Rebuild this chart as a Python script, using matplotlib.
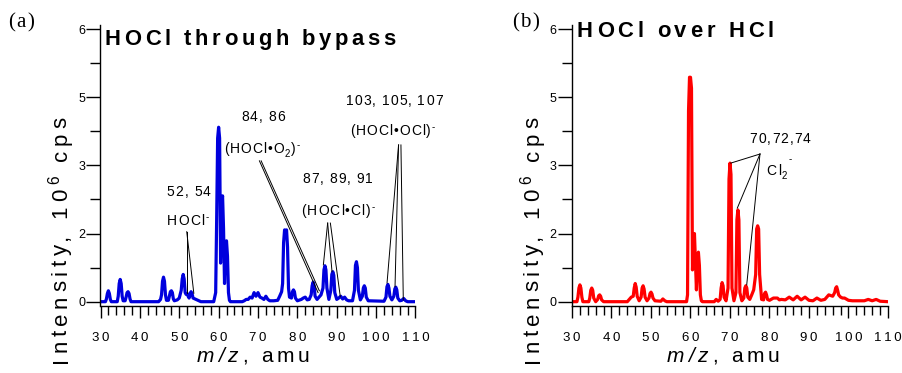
import numpy as np
import matplotlib
matplotlib.use("Agg")
import matplotlib.pyplot as plt
from matplotlib.ticker import FixedLocator, MultipleLocator
from matplotlib.transforms import IdentityTransform

# ---------------- data (m/z in amu, intensity in axis units) ----------------
mz_a = [30, 31.25, 31.5, 31.75, 32, 32.25, 32.5, 32.75, 34.25, 34.5, 34.75, 35, 35.25, 35.5, 35.75, 36.25,
        36.5, 36.75, 37, 37.25, 37.5, 37.75, 44.75, 45.25, 45.5, 45.75, 46, 46.25, 46.5, 46.75, 47.25, 47.5,
        47.75, 48, 48.25, 48.5, 48.75, 49.5, 50, 50.5, 50.75, 51, 51.25, 51.5, 51.75, 52, 52.25, 52.5,
        52.75, 53, 53.25, 53.5, 54, 54.5, 55, 55.5, 58.75, 59.25, 59.5, 59.75, 60, 60.25, 60.5, 60.75,
        61, 61.25, 61.5, 61.75, 62, 62.25, 62.5, 62.75, 63, 66, 66.5, 67, 67.5, 68, 68.5, 69,
        69.5, 70, 70.5, 71, 71.5, 72, 72.5, 73, 74, 75, 75.5, 76, 76.25, 76.5, 76.75, 77,
        77.25, 77.5, 77.75, 78, 78.5, 78.75, 79, 79.25, 79.5, 80, 81, 81.5, 82, 82.5, 83, 83.5,
        83.75, 84, 84.25, 84.5, 85, 85.5, 86, 86.5, 86.75, 87, 87.25, 87.5, 88, 88.5, 88.75, 89,
        89.25, 89.5, 90, 90.5, 91, 91.5, 92, 92.5, 93, 94, 94.5, 94.75, 95, 95.25, 95.5, 96,
        96.5, 96.75, 97, 97.25, 97.5, 98, 102, 102.5, 102.75, 103, 103.25, 103.5, 104, 104.5, 104.75, 105,
        105.25, 105.5, 106, 106.5, 107, 107.5, 108, 110]
int_a = [0, 0, 0.06, 0.18, 0.24, 0.18, 0.05, 0, 0, 0.12, 0.4, 0.49, 0.4, 0.12, 0.02, 0.02,
         0.1, 0.2, 0.22, 0.18, 0.06, 0, 0, 0.05, 0.15, 0.45, 0.54, 0.45, 0.15, 0.03, 0.03, 0.12,
         0.22, 0.24, 0.2, 0.06, 0.02, 0.04, 0.08, 0.25, 0.5, 0.6, 0.5, 0.2, 0.16, 0.18, 0.12, 0.08,
         0.18, 0.22, 0.18, 0.08, 0.06, 0.04, 0.02, 0, 0, 0.2, 1.8, 3.6, 3.84, 3.6, 0.85, 2.1,
         2.33, 1.6, 0.4, 1.2, 1.34, 1.0, 0.2, 0.03, 0, 0, 0.02, 0.05, 0.05, 0.1, 0.08, 0.2,
         0.12, 0.2, 0.1, 0.08, 0.05, 0.12, 0.05, 0.02, 0.02, 0.03, 0.12, 0.22, 0.4, 1.3, 1.58, 1.55,
         1.58, 1.2, 0.3, 0.1, 0.08, 0.22, 0.26, 0.22, 0.08, 0.02, 0.05, 0.08, 0.1, 0.04, 0.05, 0.15,
         0.35, 0.43, 0.35, 0.12, 0.05, 0.1, 0.15, 0.3, 0.7, 0.79, 0.7, 0.3, 0.05, 0.25, 0.6, 0.66,
         0.58, 0.2, 0.05, 0.08, 0.12, 0.06, 0.1, 0.04, 0.02, 0.02, 0.25, 0.8, 0.88, 0.75, 0.25, 0.04,
         0.12, 0.3, 0.35, 0.3, 0.1, 0.02, 0.01, 0.1, 0.33, 0.38, 0.3, 0.12, 0.04, 0.12, 0.28, 0.32,
         0.26, 0.08, 0.02, 0.03, 0.07, 0.02, 0, 0]

mz_b = [30, 31.25, 31.5, 31.75, 32, 32.25, 32.5, 32.75, 34.25, 34.5, 34.75, 35, 35.25, 35.5, 36, 36.5,
        36.75, 37, 37.25, 37.5, 38, 44, 44.5, 45, 45.5, 45.75, 46, 46.25, 46.5, 47, 47.5, 47.75,
        48, 48.25, 48.5, 49, 49.5, 49.75, 50, 50.25, 50.5, 51, 52.5, 53, 53.5, 54, 59, 59.25,
        59.5, 59.75, 60, 60.25, 60.5, 60.75, 61, 61.25, 61.5, 61.75, 62, 62.25, 62.5, 62.75, 63, 66,
        66.5, 67, 67.5, 67.75, 68, 68.25, 68.5, 69, 69.5, 69.75, 70, 70.25, 70.5, 71, 71.5, 71.75,
        72, 72.25, 72.5, 73, 73.5, 73.75, 74, 74.25, 74.5, 75, 75.5, 76, 76.5, 76.75, 77, 77.25,
        77.5, 78, 78.5, 78.75, 79, 79.25, 79.5, 80, 81, 82, 82.5, 83, 84, 85, 86, 87,
        88, 89, 90, 91, 92, 93, 94, 95, 96, 96.5, 96.75, 97, 97.25, 97.5, 98, 98.5,
        99, 100, 101, 104, 105, 106, 107, 108, 110]
int_b = [0, 0, 0.1, 0.3, 0.37, 0.3, 0.1, 0, 0, 0.08, 0.25, 0.3, 0.25, 0.08, 0, 0.05,
         0.13, 0.15, 0.12, 0.04, 0, 0, 0.05, 0.1, 0.12, 0.3, 0.4, 0.32, 0.12, 0.02, 0.1, 0.3,
         0.35, 0.28, 0.1, 0.02, 0.08, 0.18, 0.21, 0.17, 0.08, 0.02, 0.01, 0.06, 0.02, 0, 0, 0.15,
         4.2, 4.94, 4.94, 4.7, 0.7, 1.3, 1.5, 0.9, 0.26, 0.9, 1.09, 0.8, 0.15, 0.02, 0, 0,
         0.05, 0.01, 0.05, 0.3, 0.42, 0.35, 0.1, 0.02, 0.3, 2.7, 3.05, 2.8, 0.3, 0.02, 0.2, 1.8,
         2.02, 1.8, 0.2, 0.02, 0.08, 0.3, 0.35, 0.3, 0.1, 0.05, 0.15, 0.26, 0.6, 1.6, 1.67, 1.6,
         0.6, 0.05, 0.04, 0.18, 0.21, 0.15, 0.05, 0.03, 0.08, 0.08, 0.04, 0.05, 0.04, 0.1, 0.04, 0.12,
         0.04, 0.1, 0.03, 0.02, 0.08, 0.03, 0.05, 0.15, 0.12, 0.2, 0.3, 0.33, 0.25, 0.15, 0.1, 0.08,
         0.08, 0.03, 0.02, 0.02, 0.05, 0.02, 0.05, 0.01, 0]

ytick_pos = [0, 1.5, 3, 4.5, 6]
ytick_lab = ["0", "2", "3", "5", "6"]
xtick_pos = [30, 40, 50, 60, 70, 80, 90, 100, 110]

# leader lines: (label anchor m/z, intensity) -> (peak m/z, intensity)
leaders_a = [((51.9, 1.54), (51.9, 0.19)), ((51.9, 1.54), (53.7, 0.185)),
             ((70.36, 3.10), (85.25, 0.20)), ((70.8, 3.10), (85.58, 0.24)),
             ((87.69, 1.73), (86.6, 0.81)), ((87.69, 1.73), (88.8, 0.66)), ((88.38, 1.73), (90.9, 0.11)),
             ((105.7, 3.45), (102.77, 0.41)), ((105.7, 3.45), (104.8, 0.33)), ((106.3, 3.45), (106.9, 0.04))]
leaders_b = [((77.59, 3.25), (70.18, 3.05)), ((77.59, 3.25), (71.85, 2.06)), ((77.59, 3.25), (74.23, 0.37))]

W, H = 903, 373
fig = plt.figure(figsize=(W / 100, H / 100), dpi=100)
ax1 = fig.add_axes([100.5 / W, (H - 306) / H, 315 / W, 281 / H])
ax2 = fig.add_axes([572 / W, (H - 306) / H, 316 / W, 281 / H])

FAM = ["Liberation Sans", "DejaVu Sans"]

for ax, mz, it, col in [(ax1, mz_a, int_a, "#0000dd"), (ax2, mz_b, int_b, "#ff0000")]:
    ax.plot(mz, it, color=col, lw=2.3, solid_joinstyle="round")
    ax.set_xlim(30, 110)
    ax.set_ylim(-0.095, 6.09)
    for s in ["top", "right"]:
        ax.spines[s].set_visible(False)
    for s in ["left", "bottom"]:
        ax.spines[s].set_linewidth(1.0)
    ax.yaxis.set_major_locator(FixedLocator(ytick_pos))
    ax.set_yticklabels(ytick_lab)
    ax.yaxis.set_minor_locator(MultipleLocator(0.75))
    ax.xaxis.set_major_locator(FixedLocator(xtick_pos))
    ax.set_xticklabels(["\u2009".join(str(v)) for v in xtick_pos])
    ax.xaxis.set_minor_locator(MultipleLocator(2))
    ax.tick_params(axis="y", which="major", length=10, width=1, pad=1, labelsize=9)
    ax.tick_params(axis="y", which="minor", length=7, width=1)
    ax.tick_params(axis="x", which="major", length=8.6, width=1, pad=10, labelsize=9.5)
    ax.tick_params(axis="x", which="minor", length=6.5, width=1)
    for lab in ax.get_xticklabels() + ax.get_yticklabels():
        lab.set_family(FAM)

for (p, q) in leaders_a:
    ax1.plot([p[0], q[0]], [p[1], q[1]], color="black", lw=0.7)
for (p, q) in leaders_b:
    ax2.plot([p[0], q[0]], [p[1], q[1]], color="black", lw=0.7)

renderer = fig.canvas.get_renderer()


def _w(s, fs, **kw):
    t = fig.text(0, 0, s, fontsize=fs, transform=IdentityTransform(), **kw)
    bb = t.get_window_extent(renderer)
    t.remove()
    return bb.width


def spaced(x, y, tokens, size, spacing, ha="center", rotation=0, family=FAM,
           weight="normal", color="black"):
    """Draw letter-spaced text token by token (display pixel coords, baseline at y)."""
    toks = []
    for s, dy, sf, st in tokens:
        fs = size * sf
        kw = dict(family=family, weight=weight, style=st)
        w = _w("|" + s + "|", fs, **kw) - _w("||", fs, **kw)
        toks.append((s, dy, fs, kw, w))
    total = sum(t[4] for t in toks) + spacing * (len(toks) - 1)
    start = {"center": -total / 2, "left": 0, "right": -total}[ha]
    pos = start
    for s, dy, fs, kw, w in toks:
        if rotation == 0:
            fig.text(x + pos, y + dy, s, fontsize=fs, transform=IdentityTransform(),
                     ha="left", va="baseline", color=color, **kw)
        else:
            fig.text(x - dy, y + pos, s, fontsize=fs, transform=IdentityTransform(),
                     ha="left", va="baseline", rotation=90, rotation_mode="anchor",
                     color=color, **kw)
        pos += w + spacing


def dpt(ax, m, v):
    return ax.transData.transform((m, v))


def chars(s, st="normal"):
    return [(c, 0, 1.0, st) for c in s]


SUP = 5
SUB = -4
MINUS = [("-", SUP, 0.7, "normal")]

# titles
spaced(105, H - 45, chars("HOCl through bypass"), 15.8, 3.6, ha="left", weight="bold")
spaced(577, H - 36.7, chars("HOCl over HCl"), 15.8, 3.8, ha="left", weight="bold")

# panel letters
spaced(8, H - 27, chars("(a)"), 15, 1.5, ha="left", family=["Liberation Serif"])
spaced(512, H - 27, chars("(b)"), 15, 1.5, ha="left", family=["Liberation Serif"])

# y labels
ylab_tokens = chars("Intensity, 10") + [("6", 7, 0.7, "normal")] + chars(" cps")
spaced(66.7, H - 240, ylab_tokens, 16, 4.5, rotation=90)
spaced(538.7, H - 240, ylab_tokens, 16, 4.5, rotation=90)

# x labels
xlab_tokens = chars("m/z", "italic") + chars(", amu")
spaced(253, H - 362, xlab_tokens, 15, 3.8)
spaced(723, H - 362, xlab_tokens, 15, 3.8)

# annotations, panel (a)
ann_a = [((52.4, 2.33), chars("52, 54")),
         ((52.2, 1.69), chars("HOCl") + MINUS),
         ((71.2, 3.98), chars("84, 86")),
         ((71.0, 3.28), chars("(HOCl\u2022O") + [("2", SUB, 0.7, "normal")] + chars(")") + MINUS),
         ((90.3, 2.62), chars("87, 89, 91")),
         ((90.3, 1.91), chars("(HOCl\u2022Cl)") + MINUS),
         ((104.6, 4.33), chars("103, 105, 107")),
         ((104.2, 3.67), chars("(HOCl\u2022OCl)") + MINUS)]
for (m, v), toks in ann_a:
    x, y = dpt(ax1, m, v)
    spaced(x, y, toks, 10, 1.0)

x, y = dpt(ax2, 82.7, 3.49)
spaced(x, y, chars("70,72,74"), 10, 1.0)
x, y = dpt(ax2, 79.3, 2.79)
spaced(x, y, chars("Cl") + [("2", SUB, 0.7, "normal"), ("-", SUP + 8, 0.7, "normal")], 10, 1.0, ha="left")

fig.savefig("out.png", dpi=100)
